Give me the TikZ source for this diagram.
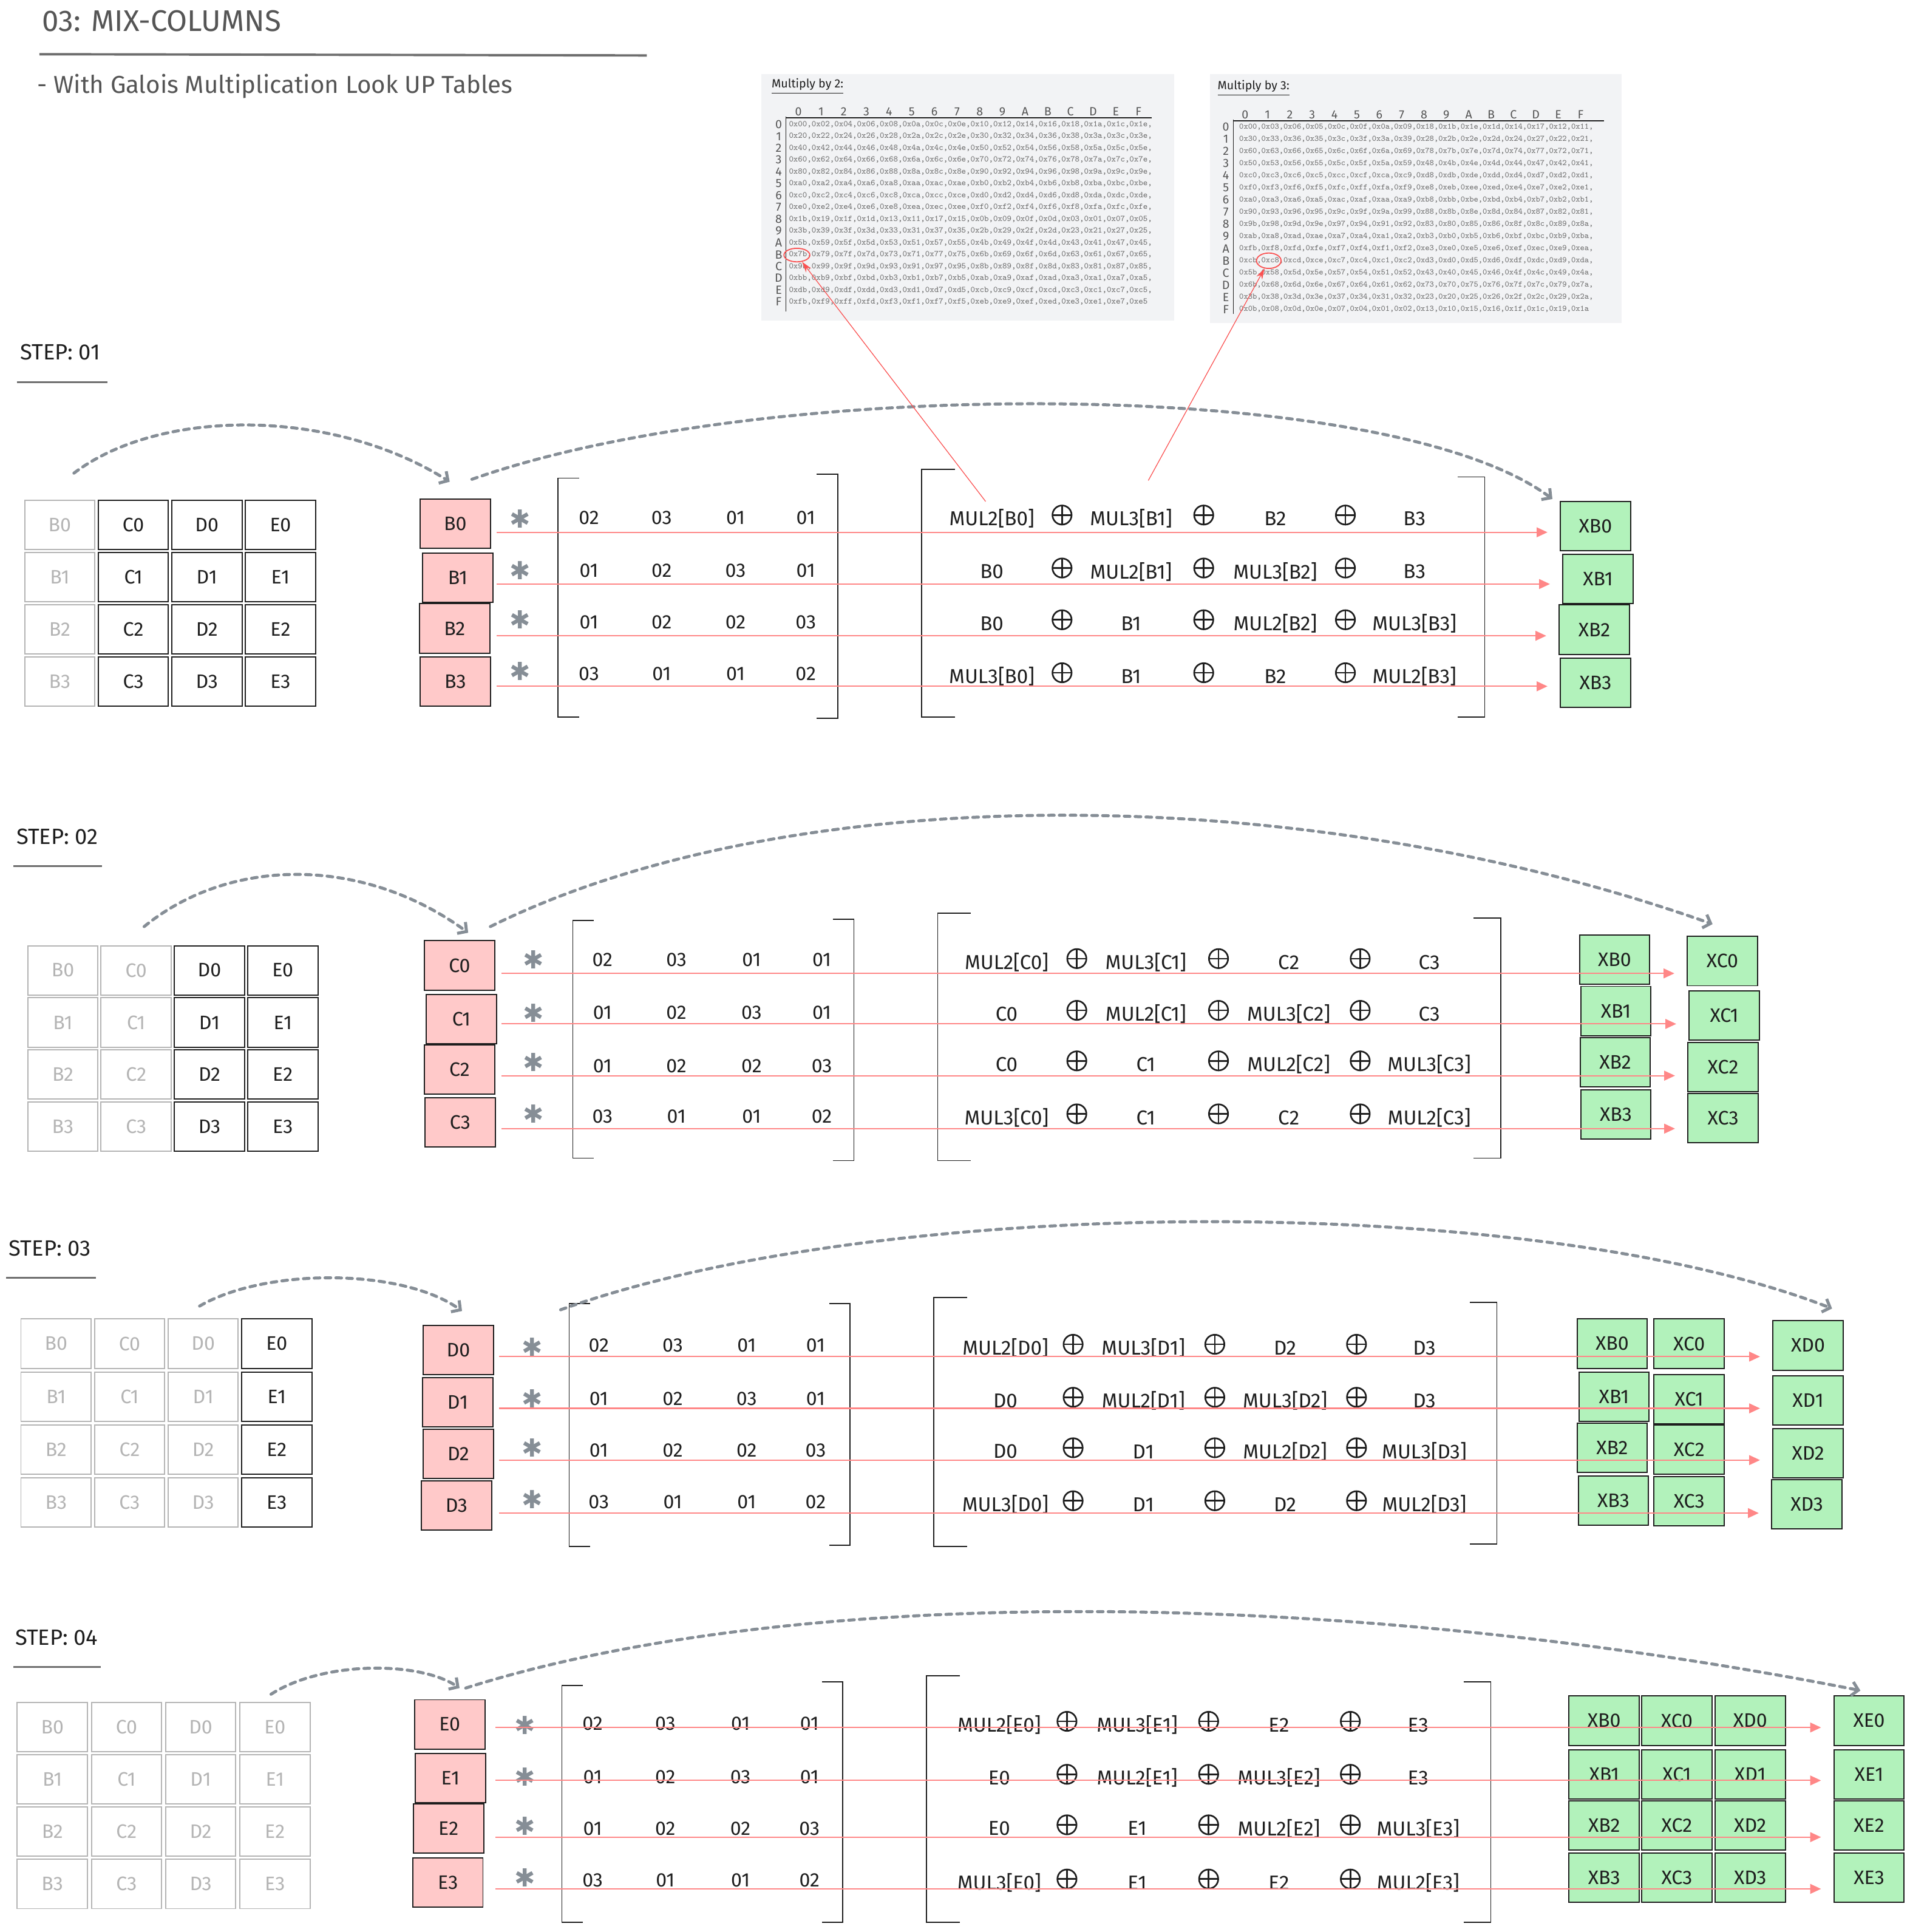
\documentclass[tikz,border=0pt]{standalone}
\usepackage{fontspec}
\setmainfont{Fira Sans}
\newfontfamily\djv{DejaVu Sans}
\usetikzlibrary{arrows.meta,calc,shapes.geometric}
\definecolor{ink}{HTML}{1E1E1E}
\definecolor{ghostc}{HTML}{B4B4B4}
\definecolor{pinkf}{HTML}{FFC9C9}
\definecolor{greenf}{HTML}{B2F2BB}
\definecolor{redl}{HTML}{FF8787}
\definecolor{redt}{HTML}{FA5252}
\definecolor{dashc}{HTML}{868E96}
\definecolor{tabbg}{HTML}{F2F3F5}
\definecolor{titlec}{HTML}{555555}
\definecolor{rulec}{HTML}{6E6E6E}
\definecolor{tabtxt}{HTML}{707070}
\definecolor{tabhdc}{HTML}{555555}
\begin{document}
\begin{tikzpicture}[x=0.2mm,y=-0.2mm,
  box/.style={minimum width=11.4mm, minimum height=8mm, inner sep=0pt, line width=0.55pt, font=\fontsize{9}{10}\selectfont},
  cell/.style={box, draw=ink, text=ink},
  ghost/.style={box, draw=ghostc, text=ghostc},
  pinkbox/.style={box, draw=ink, fill=pinkf, text=ink},
  greenbox/.style={box, draw=ink, fill=greenf, text=ink},
  coef/.style={inner sep=0pt, text=ink, font=\fontsize{9}{10}\selectfont},
  expr/.style={inner sep=0pt, text=ink, font=\fontsize{9.3}{10}\selectfont},
  xorop/.style={circle, draw=ink, line width=0.75pt, minimum size=3.1mm, inner sep=0pt,
    path picture={\draw[ink, line width=0.75pt] (path picture bounding box.north) -- (path picture bounding box.south) (path picture bounding box.west) -- (path picture bounding box.east);}},
  astk/.style={inner sep=0pt, text=dashc, font=\djv\fontsize{11.5}{12}\selectfont},
  bracket/.style={draw=ink, line width=0.45pt},
  redarr/.style={draw=redl, line width=0.6pt, -{Triangle[length=5pt,width=4.5pt]}, shorten >=2mm},
  redthin/.style={draw=redt, line width=0.35pt, -{Stealth[length=5pt,width=3pt]}},
  flow/.style={draw=dashc, line width=1.4pt, dash pattern=on 2.6pt off 2.4pt, line cap=round, -{Straight Barb[length=3pt,width=6.5pt]}},
  steplbl/.style={anchor=west, inner sep=0pt, text=ink, font=\fontsize{10.2}{11}\selectfont},
  steprule/.style={draw=rulec, line width=0.8pt},
  tabhd/.style={inner sep=0pt, text=tabhdc, font=\fontsize{5.5}{6}\selectfont},
  tabrow/.style={anchor=west, inner sep=0pt, text=tabtxt, font=\fontsize{3.95}{4.2}\ttfamily},
  tabrowb/.style={anchor=west, inner sep=0pt, text=tabtxt, font=\fontsize{3.85}{4.2}\ttfamily},
  tabline/.style={draw=ink, line width=0.4pt},
  hit/.style={ellipse, draw=redt, line width=0.5pt, inner sep=0pt}
]
\useasboundingbox (0,0) rectangle (1550,1568);

% ---------------- title
\node[anchor=west, inner sep=0pt, text=titlec, font=\fontsize{13.8}{15}\selectfont] (title) at (34,17) {03: MIX-COLUMNS};
\draw[line width=1.1pt, rulec] (32,44) -- (525,45);
\node[anchor=west, inner sep=0pt, text=titlec, font=\fontsize{11.3}{13}\selectfont] (sub) at (30,70) {- With Galois Multiplication Look UP Tables};

% ---------------- table multiply by 2
\fill[tabbg] (618,60) rectangle (953,260);
\node[anchor=west, inner sep=0pt, text=ink, font=\fontsize{5.5}{6}\selectfont] (m2t) at (626,70) {\underline{Multiply by 2:}};
\foreach \h [count=\j from 0] in {0,1,2,3,4,5,6,7,8,9,A,B,C,D,E,F}
  \node[tabhd] (m2h\j) at ({648+18.4*\j},90.7) {\h};
\draw[tabline] (638,95.6) -- (935,95.6);
\draw[tabline] (638,94.4) -- (638,253);
\foreach \h/\row [count=\i from 0] in {
0/{0x00,0x02,0x04,0x06,0x08,0x0a,0x0c,0x0e,0x10,0x12,0x14,0x16,0x18,0x1a,0x1c,0x1e,},
1/{0x20,0x22,0x24,0x26,0x28,0x2a,0x2c,0x2e,0x30,0x32,0x34,0x36,0x38,0x3a,0x3c,0x3e,},
2/{0x40,0x42,0x44,0x46,0x48,0x4a,0x4c,0x4e,0x50,0x52,0x54,0x56,0x58,0x5a,0x5c,0x5e,},
3/{0x60,0x62,0x64,0x66,0x68,0x6a,0x6c,0x6e,0x70,0x72,0x74,0x76,0x78,0x7a,0x7c,0x7e,},
4/{0x80,0x82,0x84,0x86,0x88,0x8a,0x8c,0x8e,0x90,0x92,0x94,0x96,0x98,0x9a,0x9c,0x9e,},
5/{0xa0,0xa2,0xa4,0xa6,0xa8,0xaa,0xac,0xae,0xb0,0xb2,0xb4,0xb6,0xb8,0xba,0xbc,0xbe,},
6/{0xc0,0xc2,0xc4,0xc6,0xc8,0xca,0xcc,0xce,0xd0,0xd2,0xd4,0xd6,0xd8,0xda,0xdc,0xde,},
7/{0xe0,0xe2,0xe4,0xe6,0xe8,0xea,0xec,0xee,0xf0,0xf2,0xf4,0xf6,0xf8,0xfa,0xfc,0xfe,},
8/{0x1b,0x19,0x1f,0x1d,0x13,0x11,0x17,0x15,0x0b,0x09,0x0f,0x0d,0x03,0x01,0x07,0x05,},
9/{0x3b,0x39,0x3f,0x3d,0x33,0x31,0x37,0x35,0x2b,0x29,0x2f,0x2d,0x23,0x21,0x27,0x25,},
A/{0x5b,0x59,0x5f,0x5d,0x53,0x51,0x57,0x55,0x4b,0x49,0x4f,0x4d,0x43,0x41,0x47,0x45,},
B/{0x7b,0x79,0x7f,0x7d,0x73,0x71,0x77,0x75,0x6b,0x69,0x6f,0x6d,0x63,0x61,0x67,0x65,},
C/{0x9b,0x99,0x9f,0x9d,0x93,0x91,0x97,0x95,0x8b,0x89,0x8f,0x8d,0x83,0x81,0x87,0x85,},
D/{0xbb,0xb9,0xbf,0xbd,0xb3,0xb1,0xb7,0xb5,0xab,0xa9,0xaf,0xad,0xa3,0xa1,0xa7,0xa5,},
E/{0xdb,0xd9,0xdf,0xdd,0xd3,0xd1,0xd7,0xd5,0xcb,0xc9,0xcf,0xcd,0xc3,0xc1,0xc7,0xc5,},
F/{0xfb,0xf9,0xff,0xfd,0xf3,0xf1,0xf7,0xf5,0xeb,0xe9,0xef,0xed,0xe3,0xe1,0xe7,0xe5}}{
  \node[tabhd] (m2l\i) at (632,{101+9.6*\i}) {\h};
  \node[tabrow] (m2r\i) at (640,{101+9.6*\i}) {\row};
}
\node[hit, minimum width=4.2mm, minimum height=2.2mm] (m2hit) at (646.8,207) {};

% ---------------- table multiply by 3
\fill[tabbg] (982,60) rectangle (1316,262);
\node[anchor=west, inner sep=0pt, text=ink, font=\fontsize{5.5}{6}\selectfont] (m3t) at (988,71.5) {\underline{Multiply by 3:}};
\foreach \h [count=\j from 0] in {0,1,2,3,4,5,6,7,8,9,A,B,C,D,E,F}
  \node[tabhd] (m3h\j) at ({1010.6+18.15*\j},93) {\h};
\draw[tabline] (1001,98) -- (1302,98);
\draw[tabline] (1001,97) -- (1001,255);
\foreach \h/\row [count=\i from 0] in {
0/{0x00,0x03,0x06,0x05,0x0c,0x0f,0x0a,0x09,0x18,0x1b,0x1e,0x1d,0x14,0x17,0x12,0x11,},
1/{0x30,0x33,0x36,0x35,0x3c,0x3f,0x3a,0x39,0x28,0x2b,0x2e,0x2d,0x24,0x27,0x22,0x21,},
2/{0x60,0x63,0x66,0x65,0x6c,0x6f,0x6a,0x69,0x78,0x7b,0x7e,0x7d,0x74,0x77,0x72,0x71,},
3/{0x50,0x53,0x56,0x55,0x5c,0x5f,0x5a,0x59,0x48,0x4b,0x4e,0x4d,0x44,0x47,0x42,0x41,},
4/{0xc0,0xc3,0xc6,0xc5,0xcc,0xcf,0xca,0xc9,0xd8,0xdb,0xde,0xdd,0xd4,0xd7,0xd2,0xd1,},
5/{0xf0,0xf3,0xf6,0xf5,0xfc,0xff,0xfa,0xf9,0xe8,0xeb,0xee,0xed,0xe4,0xe7,0xe2,0xe1,},
6/{0xa0,0xa3,0xa6,0xa5,0xac,0xaf,0xaa,0xa9,0xb8,0xbb,0xbe,0xbd,0xb4,0xb7,0xb2,0xb1,},
7/{0x90,0x93,0x96,0x95,0x9c,0x9f,0x9a,0x99,0x88,0x8b,0x8e,0x8d,0x84,0x87,0x82,0x81,},
8/{0x9b,0x98,0x9d,0x9e,0x97,0x94,0x91,0x92,0x83,0x80,0x85,0x86,0x8f,0x8c,0x89,0x8a,},
9/{0xab,0xa8,0xad,0xae,0xa7,0xa4,0xa1,0xa2,0xb3,0xb0,0xb5,0xb6,0xbf,0xbc,0xb9,0xba,},
A/{0xfb,0xf8,0xfd,0xfe,0xf7,0xf4,0xf1,0xf2,0xe3,0xe0,0xe5,0xe6,0xef,0xec,0xe9,0xea,},
B/{0xcb,0xc8,0xcd,0xce,0xc7,0xc4,0xc1,0xc2,0xd3,0xd0,0xd5,0xd6,0xdf,0xdc,0xd9,0xda,},
C/{0x5b,0x58,0x5d,0x5e,0x57,0x54,0x51,0x52,0x43,0x40,0x45,0x46,0x4f,0x4c,0x49,0x4a,},
D/{0x6b,0x68,0x6d,0x6e,0x67,0x64,0x61,0x62,0x73,0x70,0x75,0x76,0x7f,0x7c,0x79,0x7a,},
E/{0x3b,0x38,0x3d,0x3e,0x37,0x34,0x31,0x32,0x23,0x20,0x25,0x26,0x2f,0x2c,0x29,0x2a,},
F/{0x0b,0x08,0x0d,0x0e,0x07,0x04,0x01,0x02,0x13,0x10,0x15,0x16,0x1f,0x1c,0x19,0x1a}}{
  \node[tabhd] (m3l\i) at (995,{103+9.87*\i}) {\h};
  \node[tabrowb] (m3r\i) at (1005.5,{103+9.87*\i}) {\row};
}
\node[hit, minimum width=4mm, minimum height=2.5mm] (m3hit) at (1029.8,211.6) {};

% ================= STEP 01
\node[steplbl] (st1) at (16,286) {STEP: 01};
\draw[steprule] (14,310) -- (87,310);
\foreach \c [count=\ci from 0] in {B,C,D,E}{
 \foreach \r in {0,1,2,3}{
  \ifnum\ci<1 \node[ghost] (ga\c\r) at ({48.5+59.7*\ci},{426+42.4*\r}) {\c\r};
  \else \node[cell] (ga\c\r) at ({48.5+59.7*\ci},{426+42.4*\r}) {\c\r}; \fi
 }}
\foreach \r/\px/\py in {0/369.5/425,1/371.5/469,2/369/510,3/369.5/553}
  \node[pinkbox] (pa\r) at (\px,\py) {B\r};
\foreach \r/\sy in {0/421,1/463,2/503,3/545}
  \node[astk] (sa\r) at (422,\sy) {✱};
\draw[bracket] (470,388) -- (453,388) -- (453,582) -- (470,582);
\draw[bracket] (663,385) -- (680,385) -- (680,583) -- (663,583);
\draw[bracket] (775,381) -- (748,381) -- (748,582) -- (775,582);
\draw[bracket] (1183,387) -- (1205,387) -- (1205,582) -- (1183,582);
\foreach \r/\cy/\va/\vb/\vc/\vd in {0/420/02/03/01/01,1/463/01/02/03/01,2/505/01/02/02/03,3/547/03/01/01/02}{
  \node[coef] (ka\r-1) at (478,\cy) {\va};
  \node[coef] (ka\r-2) at (537,\cy) {\vb};
  \node[coef] (ka\r-3) at (597,\cy) {\vc};
  \node[coef] (ka\r-4) at (654,\cy) {\vd};}
\foreach \r/\ey/\ta/\tb/\tc/\td in {0/421/MUL2[B0]/MUL3[B1]/B2/B3,1/464/B0/MUL2[B1]/MUL3[B2]/B3,2/506/B0/B1/MUL2[B2]/MUL3[B3],3/549/MUL3[B0]/B1/B2/MUL2[B3]}{
  \node[expr] (ea\r-1) at (805,\ey) {\ta};
  \node[xorop] (oa\r-1) at (862,{\ey-3}) {};
  \node[expr] (ea\r-2) at (918,\ey) {\tb};
  \node[xorop] (oa\r-2) at (977,{\ey-3}) {};
  \node[expr] (ea\r-3) at (1035,\ey) {\tc};
  \node[xorop] (oa\r-3) at (1092,{\ey-3}) {};
  \node[expr] (ea\r-4) at (1148,\ey) {\td};}
\foreach \r/\gx/\gy in {0/1295/427,1/1297/470,2/1294/511,3/1295/554}
  \node[greenbox] (qaB\r) at (\gx,\gy) {XB\r};
\foreach \r/\ay in {0/432,1/474,2/516,3/557}{
  \coordinate (ra\r) at (403,\ay);
  \draw[redarr] (ra\r) -- (ra\r -| qaB\r.west);}
\coordinate (fa1) at (60,384); \coordinate (fa2) at (365,391);
\draw[flow] (fa1) .. controls (130,331) and (270,331) .. (fa2);
\coordinate (fa3) at (383,389); \coordinate (fa4) at (1260,405);
\draw[flow] (fa3) .. controls (620,305) and (1126,305) .. (fa4);

% ================= STEP 02
\node[steplbl] (st2) at (13,679) {STEP: 02};
\draw[steprule] (11,703) -- (83,703);
\foreach \c [count=\ci from 0] in {B,C,D,E}{
 \foreach \r in {0,1,2,3}{
  \ifnum\ci<2 \node[ghost] (gb\c\r) at ({51+59.5*\ci},{787.5+42.3*\r}) {\c\r};
  \else \node[cell] (gb\c\r) at ({51+59.5*\ci},{787.5+42.3*\r}) {\c\r}; \fi
 }}
\foreach \r/\px/\py in {0/373/783.5,1/374.5/827,2/373/868,3/373.5/911}
  \node[pinkbox] (pb\r) at (\px,\py) {C\r};
\foreach \r/\sy in {0/779,1/822,2/862,3/904}
  \node[astk] (sb\r) at (433,\sy) {✱};
\draw[bracket] (482,747) -- (465,747) -- (465,940) -- (482,940);
\draw[bracket] (676,746) -- (693,746) -- (693,942) -- (676,942);
\draw[bracket] (788,741) -- (761,741) -- (761,942) -- (788,942);
\draw[bracket] (1196,745) -- (1218,745) -- (1218,940) -- (1196,940);
\foreach \r/\cy/\va/\vb/\vc/\vd in {0/779/02/03/01/01,1/822/01/02/03/01,2/865/01/02/02/03,3/906/03/01/01/02}{
  \node[coef] (kb\r-1) at (489,\cy) {\va};
  \node[coef] (kb\r-2) at (549,\cy) {\vb};
  \node[coef] (kb\r-3) at (610,\cy) {\vc};
  \node[coef] (kb\r-4) at (667,\cy) {\vd};}
\foreach \r/\ey/\ta/\tb/\tc/\td in {0/781/MUL2[C0]/MUL3[C1]/C2/C3,1/823/C0/MUL2[C1]/MUL3[C2]/C3,2/864/C0/C1/MUL2[C2]/MUL3[C3],3/907/MUL3[C0]/C1/C2/MUL2[C3]}{
  \node[expr] (eb\r-1) at (817,\ey) {\ta};
  \node[xorop] (ob\r-1) at (874,{\ey-3}) {};
  \node[expr] (eb\r-2) at (930,\ey) {\tb};
  \node[xorop] (ob\r-2) at (989,{\ey-3}) {};
  \node[expr] (eb\r-3) at (1046,\ey) {\tc};
  \node[xorop] (ob\r-3) at (1104,{\ey-3}) {};
  \node[expr] (eb\r-4) at (1160,\ey) {\td};}
\foreach \r/\gx/\gy/\hx/\hy in {0/1310.5/779/1398/780,1/1311.5/820.5/1399.5/824,2/1311/862/1398.5/866,3/1311.5/904.5/1398.5/907.5}{
  \node[greenbox] (qbB\r) at (\gx,\gy) {XB\r};
  \node[greenbox] (qbC\r) at (\hx,\hy) {XC\r};}
\foreach \r/\ay in {0/790,1/831,2/873,3/916}{
  \coordinate (rb\r) at (407,\ay);
  \draw[redarr] (rb\r) -- (rb\r -| qbC\r.west);}
\coordinate (fb1) at (117,752); \coordinate (fb2) at (380,757);
\draw[flow] (fb1) .. controls (187,695) and (295,695) .. (fb2);
\coordinate (fb3) at (398,752); \coordinate (fb4) at (1390,750);
\draw[flow] (fb3) .. controls (640,632) and (1057,632) .. (fb4);

% ================= STEP 03
\node[steplbl] (st3) at (7,1013) {STEP: 03};
\draw[steprule] (5,1037) -- (78,1037);
\foreach \c [count=\ci from 0] in {B,C,D,E}{
 \foreach \r in {0,1,2,3}{
  \ifnum\ci<3 \node[ghost] (gc\c\r) at ({45.5+59.7*\ci},{1090.5+43*\r}) {\c\r};
  \else \node[cell] (gc\c\r) at ({45.5+59.7*\ci},{1090.5+43*\r}) {\c\r}; \fi
 }}
\foreach \r/\px/\py in {0/372/1095.5,1/371.5/1138,2/372/1180,3/370.5/1222}
  \node[pinkbox] (pc\r) at (\px,\py) {D\r};
\foreach \r/\sy in {0/1093,1/1135,2/1175,3/1217}
  \node[astk] (sc\r) at (432,\sy) {✱};
\draw[bracket] (479,1058) -- (462,1058) -- (462,1255) -- (479,1255);
\draw[bracket] (673,1058) -- (690,1058) -- (690,1254) -- (673,1254);
\draw[bracket] (785,1053) -- (758,1053) -- (758,1255) -- (785,1255);
\draw[bracket] (1193,1057) -- (1215,1057) -- (1215,1253) -- (1193,1253);
\foreach \r/\cy/\va/\vb/\vc/\vd in {0/1092/02/03/01/01,1/1135/01/02/03/01,2/1177/01/02/02/03,3/1219/03/01/01/02}{
  \node[coef] (kc\r-1) at (486,\cy) {\va};
  \node[coef] (kc\r-2) at (546,\cy) {\vb};
  \node[coef] (kc\r-3) at (606,\cy) {\vc};
  \node[coef] (kc\r-4) at (662,\cy) {\vd};}
\foreach \r/\ey/\ta/\tb/\tc/\td in {0/1094/MUL2[D0]/MUL3[D1]/D2/D3,1/1137/D0/MUL2[D1]/MUL3[D2]/D3,2/1178/D0/D1/MUL2[D2]/MUL3[D3],3/1221/MUL3[D0]/D1/D2/MUL2[D3]}{
  \node[expr] (ec\r-1) at (816,\ey) {\ta};
  \node[xorop] (oc\r-1) at (871,{\ey-3}) {};
  \node[expr] (ec\r-2) at (928,\ey) {\tb};
  \node[xorop] (oc\r-2) at (986,{\ey-3}) {};
  \node[expr] (ec\r-3) at (1043,\ey) {\tc};
  \node[xorop] (oc\r-3) at (1101,{\ey-3}) {};
  \node[expr] (ec\r-4) at (1156,\ey) {\td};}
\foreach \r/\gx/\gy/\hy/\dx/\dy in {0/1308.5/1090.5/1090.5/1467.5/1092,1/1310/1133.5/1135.5/1467.5/1136.5,2/1308.5/1175/1176.5/1467.5/1179.5,3/1309.5/1218/1218.5/1466.5/1221}{
  \node[greenbox] (qcB\r) at (\gx,\gy) {XB\r};
  \node[greenbox] (qcC\r) at (1371,\hy) {XC\r};
  \node[greenbox] (qcD\r) at (\dx,\dy) {XD\r};}
\foreach \r/\ay in {0/1101,1/1143,2/1185,3/1228}{
  \coordinate (rc\r) at (405,\ay);
  \draw[redarr] (rc\r) -- (rc\r -| qcD\r.west);}
\coordinate (fc1) at (162,1060); \coordinate (fc2) at (375,1064);
\draw[flow] (fc1) .. controls (215,1029) and (326,1029) .. (fc2);
\coordinate (fc3) at (455,1063); \coordinate (fc4) at (1487,1062);
\draw[flow] (fc3) .. controls (720,968) and (1246,968) .. (fc4);

% ================= STEP 04
\node[steplbl] (st4) at (12,1329) {STEP: 04};
\draw[steprule] (11,1353) -- (82,1353);
\foreach \c [count=\ci from 0] in {B,C,D,E}{
 \foreach \r in {0,1,2,3}{
  \node[ghost] (gd\c\r) at ({42.5+60.2*\ci},{1401.5+42.5*\r}) {\c\r};
 }}
\foreach \r/\px/\py in {0/365/1399.5,1/365.5/1443,2/364/1484,3/363.5/1528}
  \node[pinkbox] (pd\r) at (\px,\py) {E\r};
\foreach \r/\sy in {0/1400,1/1442,2/1482,3/1524}
  \node[astk] (sd\r) at (426,\sy) {✱};
\draw[bracket] (473,1368) -- (456,1368) -- (456,1560) -- (473,1560);
\draw[bracket] (667,1365) -- (684,1365) -- (684,1560) -- (667,1560);
\draw[bracket] (779,1360) -- (752,1360) -- (752,1560) -- (779,1560);
\draw[bracket] (1188,1365) -- (1210,1365) -- (1210,1560) -- (1188,1560);
\foreach \r/\cy/\va/\vb/\vc/\vd in {0/1399/02/03/01/01,1/1442/01/02/03/01,2/1484/01/02/02/03,3/1526/03/01/01/02}{
  \node[coef] (kd\r-1) at (481,\cy) {\va};
  \node[coef] (kd\r-2) at (540,\cy) {\vb};
  \node[coef] (kd\r-3) at (601,\cy) {\vc};
  \node[coef] (kd\r-4) at (657,\cy) {\vd};}
\foreach \r/\ey/\ta/\tb/\tc/\td in {0/1400/MUL2[E0]/MUL3[E1]/E2/E3,1/1443/E0/MUL2[E1]/MUL3[E2]/E3,2/1484/E0/E1/MUL2[E2]/MUL3[E3],3/1528/MUL3[E0]/E1/E2/MUL2[E3]}{
  \node[expr] (ed\r-1) at (811,\ey) {\ta};
  \node[xorop] (od\r-1) at (866,{\ey-3}) {};
  \node[expr] (ed\r-2) at (923,\ey) {\tb};
  \node[xorop] (od\r-2) at (981,{\ey-3}) {};
  \node[expr] (ed\r-3) at (1038,\ey) {\tc};
  \node[xorop] (od\r-3) at (1096,{\ey-3}) {};
  \node[expr] (ed\r-4) at (1151,\ey) {\td};}
\foreach \r/\gy in {0/1396.5,1/1440,2/1481.5,3/1524}{
  \node[greenbox] (qdB\r) at (1302,\gy) {XB\r};
  \node[greenbox] (qdC\r) at (1361,\gy) {XC\r};
  \node[greenbox] (qdD\r) at (1420.5,\gy) {XD\r};
  \node[greenbox] (qdE\r) at (1517,\gy) {XE\r};}
\foreach \r/\ay in {0/1402,1/1445,2/1491,3/1533}{
  \coordinate (rd\r) at (402,\ay);
  \draw[redarr] (rd\r) -- (rd\r -| qdE\r.west);}
\coordinate (fd1) at (220,1375); \coordinate (fd2) at (373,1370);
\draw[flow] (fd1) .. controls (262,1348) and (340,1348) .. (fd2);
\coordinate (fd3) at (378,1370); \coordinate (fd4) at (1510,1372);
\draw[flow] (fd3) .. controls (640,1287) and (1077,1287) .. (fd4);

% ---------------- table look-up pointers
\coordinate (t2s) at (800,407);
\draw[redthin] (t2s) -- (m2hit);
\coordinate (t3s) at (932,390);
\draw[redthin] (t3s) -- (m3hit);
\end{tikzpicture}
\end{document}
